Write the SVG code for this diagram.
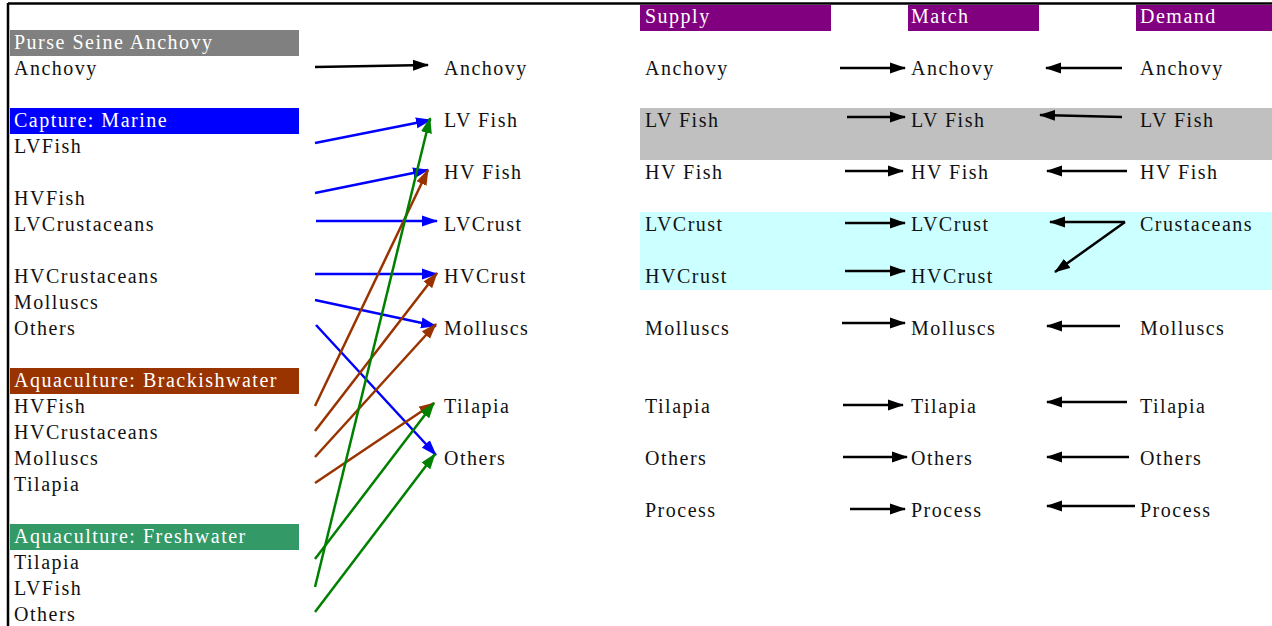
<svg xmlns="http://www.w3.org/2000/svg" width="1272" height="626" viewBox="0 0 1272 626">
<style>
text{font-family:"Liberation Serif","Times New Roman",serif;font-size:20px;letter-spacing:1.5px;fill:#111}
.h{fill:#fff}
.c line{stroke-width:2.5;fill:none}
.k{stroke:#000}
.b{stroke:#0000FF}
.r{stroke:#993300}
.g{stroke:#008000}
</style>
<defs>
<marker id="mk" markerWidth="16" markerHeight="12" refX="15" refY="6" orient="auto" markerUnits="userSpaceOnUse"><path d="M0,0.5 L16,6 L0,11.5 z" fill="#000"/></marker>
<marker id="mb" markerWidth="16" markerHeight="12" refX="15" refY="6" orient="auto" markerUnits="userSpaceOnUse"><path d="M0,0.5 L16,6 L0,11.5 z" fill="#0000FF"/></marker>
<marker id="mr" markerWidth="16" markerHeight="12" refX="15" refY="6" orient="auto" markerUnits="userSpaceOnUse"><path d="M0,0.5 L16,6 L0,11.5 z" fill="#993300"/></marker>
<marker id="mg" markerWidth="16" markerHeight="12" refX="15" refY="6" orient="auto" markerUnits="userSpaceOnUse"><path d="M0,0.5 L16,6 L0,11.5 z" fill="#008000"/></marker>
</defs>
<rect width="1272" height="626" fill="#fff"/>
<g id="frame">
<line x1="8" y1="3.5" x2="1272" y2="3.5" stroke="#000" stroke-width="2.5"/>
<line x1="8" y1="3" x2="8" y2="626" stroke="#000" stroke-width="2.5"/>
</g>
<g id="bands">
<rect x="640" y="108" width="632" height="52" fill="#C0C0C0"/>
<rect x="640" y="212" width="632" height="78" fill="#CCFFFF"/>
</g>
<g id="purse-seine">
<rect x="10" y="30" width="289" height="26" fill="#808080"/>
<text class="h" x="14" y="48.7">Purse Seine Anchovy</text>
<text x="14" y="74.7">Anchovy</text>
</g>
<g id="capture-marine">
<rect x="10" y="108" width="289" height="26" fill="#0000FF"/>
<text class="h" x="14" y="126.7">Capture: Marine</text>
<text x="14" y="152.7">LVFish</text>
<text x="14" y="204.7">HVFish</text>
<text x="14" y="230.7">LVCrustaceans</text>
<text x="14" y="282.7">HVCrustaceans</text>
<text x="14" y="308.7">Molluscs</text>
<text x="14" y="334.7">Others</text>
</g>
<g id="aqua-brackish">
<rect x="10" y="368" width="289" height="26" fill="#993300"/>
<text class="h" x="14" y="386.7">Aquaculture: Brackishwater</text>
<text x="14" y="412.7">HVFish</text>
<text x="14" y="438.7">HVCrustaceans</text>
<text x="14" y="464.7">Molluscs</text>
<text x="14" y="490.7">Tilapia</text>
</g>
<g id="aqua-fresh">
<rect x="10" y="524" width="289" height="26" fill="#339966"/>
<text class="h" x="14" y="542.7">Aquaculture: Freshwater</text>
<text x="14" y="568.7">Tilapia</text>
<text x="14" y="594.7">LVFish</text>
<text x="14" y="620.7">Others</text>
</g>
<g id="products">
<text x="444" y="74.7">Anchovy</text>
<text x="444" y="126.7">LV Fish</text>
<text x="444" y="178.7">HV Fish</text>
<text x="444" y="230.7">LVCrust</text>
<text x="444" y="282.7">HVCrust</text>
<text x="444" y="334.7">Molluscs</text>
<text x="444" y="412.7">Tilapia</text>
<text x="444" y="464.7">Others</text>
</g>
<g id="supply">
<rect x="640" y="5" width="191" height="26" fill="#800080"/>
<text class="h" x="645" y="22.7">Supply</text>
<text x="645" y="74.7">Anchovy</text>
<text x="645" y="126.7">LV Fish</text>
<text x="645" y="178.7">HV Fish</text>
<text x="645" y="230.7">LVCrust</text>
<text x="645" y="282.7">HVCrust</text>
<text x="645" y="334.7">Molluscs</text>
<text x="645" y="412.7">Tilapia</text>
<text x="645" y="464.7">Others</text>
<text x="645" y="516.7">Process</text>
</g>
<g id="match">
<rect x="908" y="5" width="131" height="26" fill="#800080"/>
<text class="h" x="911" y="22.7">Match</text>
<text x="911" y="74.7">Anchovy</text>
<text x="911" y="126.7">LV Fish</text>
<text x="911" y="178.7">HV Fish</text>
<text x="911" y="230.7">LVCrust</text>
<text x="911" y="282.7">HVCrust</text>
<text x="911" y="334.7">Molluscs</text>
<text x="911" y="412.7">Tilapia</text>
<text x="911" y="464.7">Others</text>
<text x="911" y="516.7">Process</text>
</g>
<g id="demand">
<rect x="1136" y="5" width="136" height="26" fill="#800080"/>
<text class="h" x="1140" y="22.7">Demand</text>
<text x="1140" y="74.7">Anchovy</text>
<text x="1140" y="126.7">LV Fish</text>
<text x="1140" y="178.7">HV Fish</text>
<text x="1140" y="230.7">Crustaceans</text>
<text x="1140" y="334.7">Molluscs</text>
<text x="1140" y="412.7">Tilapia</text>
<text x="1140" y="464.7">Others</text>
<text x="1140" y="516.7">Process</text>
</g>
<g id="connectors" class="c">
<line class="k" x1="315" y1="67" x2="428" y2="65" marker-end="url(#mk)"/>
<line class="b" x1="315" y1="143" x2="431" y2="120" marker-end="url(#mb)"/>
<line class="b" x1="315" y1="193" x2="428" y2="170" marker-end="url(#mb)"/>
<line class="b" x1="316" y1="221" x2="437" y2="221" marker-end="url(#mb)"/>
<line class="b" x1="315" y1="274" x2="437" y2="274" marker-end="url(#mb)"/>
<line class="b" x1="315" y1="300" x2="436" y2="326" marker-end="url(#mb)"/>
<line class="b" x1="316" y1="325" x2="436" y2="455" marker-end="url(#mb)"/>
<line class="r" x1="315" y1="406" x2="428" y2="170" marker-end="url(#mr)"/>
<line class="r" x1="315" y1="431" x2="437" y2="273" marker-end="url(#mr)"/>
<line class="r" x1="315" y1="457" x2="436" y2="324" marker-end="url(#mr)"/>
<line class="r" x1="315" y1="483" x2="434" y2="403" marker-end="url(#mr)"/>
<line class="g" x1="315" y1="559" x2="434" y2="403" marker-end="url(#mg)"/>
<line class="g" x1="315" y1="587" x2="430" y2="118" marker-end="url(#mg)"/>
<line class="g" x1="315" y1="612" x2="435" y2="454" marker-end="url(#mg)"/>
<line class="k" x1="840" y1="68" x2="905" y2="68" marker-end="url(#mk)"/>
<line class="k" x1="1122" y1="68" x2="1046" y2="68" marker-end="url(#mk)"/>
<line class="k" x1="847" y1="117" x2="905" y2="117" marker-end="url(#mk)"/>
<line class="k" x1="1122" y1="117" x2="1040" y2="115" marker-end="url(#mk)"/>
<line class="k" x1="845" y1="171" x2="903" y2="171" marker-end="url(#mk)"/>
<line class="k" x1="1127" y1="171" x2="1047" y2="171" marker-end="url(#mk)"/>
<line class="k" x1="845" y1="223" x2="905" y2="223" marker-end="url(#mk)"/>
<line class="k" x1="1125" y1="222" x2="1050" y2="222" marker-end="url(#mk)"/>
<line class="k" x1="1125" y1="222" x2="1055" y2="272" marker-end="url(#mk)"/>
<line class="k" x1="845" y1="271" x2="905" y2="271" marker-end="url(#mk)"/>
<line class="k" x1="842" y1="323" x2="905" y2="323" marker-end="url(#mk)"/>
<line class="k" x1="1120" y1="326" x2="1047" y2="326" marker-end="url(#mk)"/>
<line class="k" x1="843" y1="405" x2="903" y2="405" marker-end="url(#mk)"/>
<line class="k" x1="1127" y1="402" x2="1047" y2="402" marker-end="url(#mk)"/>
<line class="k" x1="843" y1="457" x2="907" y2="457" marker-end="url(#mk)"/>
<line class="k" x1="1129" y1="457" x2="1047" y2="457" marker-end="url(#mk)"/>
<line class="k" x1="850" y1="509" x2="905" y2="509" marker-end="url(#mk)"/>
<line class="k" x1="1135" y1="506" x2="1047" y2="506" marker-end="url(#mk)"/>
</g>
</svg>
